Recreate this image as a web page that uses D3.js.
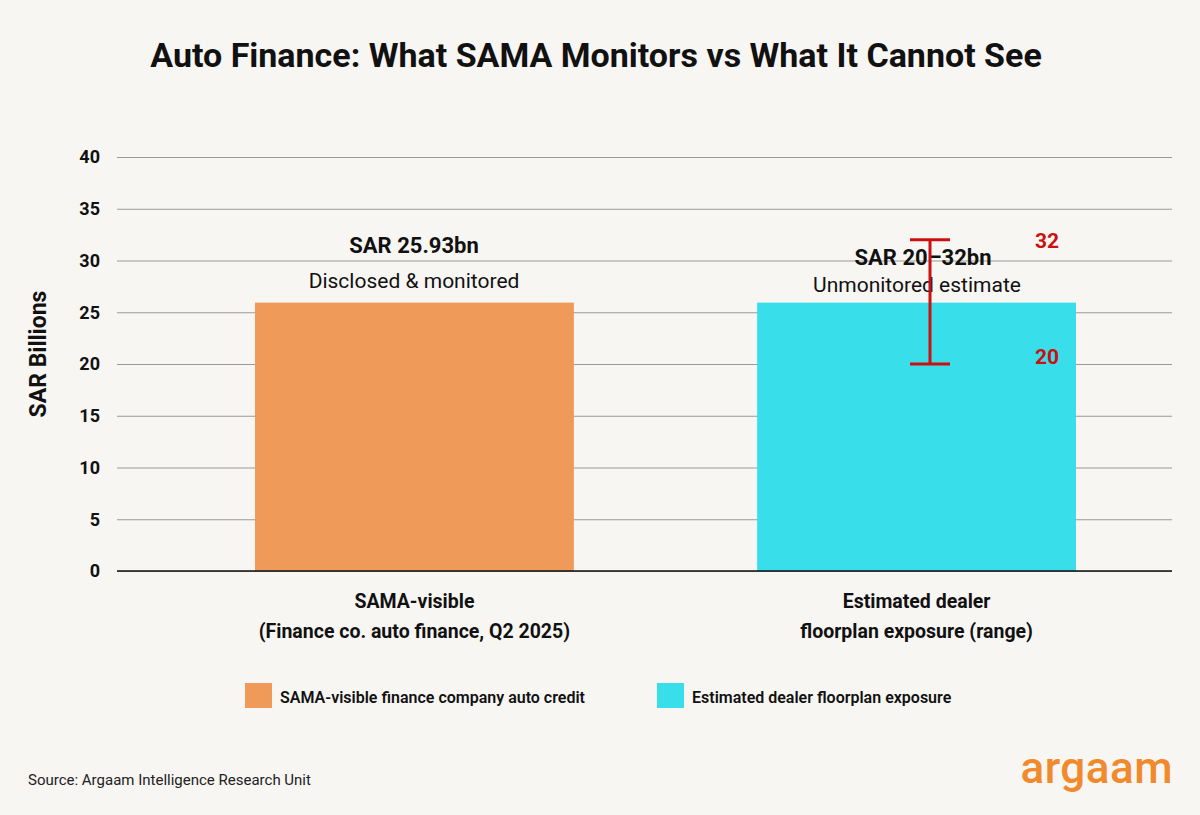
<!DOCTYPE html>
<html><head><meta charset="utf-8">
<script src="https://cdn.jsdelivr.net/npm/d3@7"></script>
<style>body{margin:0;background:#f8f6f3;font-family:Roboto,"Noto Sans",sans-serif}</style>
</head><body><svg id="c" width="1200" height="815"></svg>
<script>
const categories = ["SAMA-visible", "Estimated dealer"];
const catLine2 = ["(Finance co. auto finance, Q2 2025)", "floorplan exposure (range)"];
const values = [25.93, 25.93];
const barLabels = ["SAR 25.93bn", "SAR 20–32bn"];
const barSubs = ["Disclosed & monitored", "Unmonitored estimate"];
const rangeLow = 20, rangeHigh = 32;
const yTicks = [0,5,10,15,20,25,30,35,40];
const legendItems = ["SAMA-visible finance company auto credit", "Estimated dealer floorplan exposure"];
const colors = ["#f09a59", "#38dfea"];

const svg = d3.select("#c");
svg.append("rect").attr("width",1200).attr("height",815).attr("fill","#f8f6f3");
const y = d3.scaleLinear().domain([0,40]).range([571,157]);
const x = d3.scaleBand().domain(categories).range([255,1076]).paddingInner(0.365).paddingOuter(0);

svg.append("text").attr("x",596).attr("y",67).attr("text-anchor","middle")
  .attr("font-size",34).attr("font-weight",700).attr("fill","#111")
  .text("Auto Finance: What SAMA Monitors vs What It Cannot See");

const ax = svg.append("g").attr("transform","translate(117,0)")
  .call(d3.axisLeft(y).tickValues(yTicks).tickSize(-1055).tickPadding(17));
ax.select(".domain").remove();
ax.selectAll(".tick line").attr("stroke","#9a9a9a").attr("stroke-width",1);
ax.selectAll(".tick text").attr("font-size",18).attr("font-weight",700).attr("fill","#111").attr("font-family","Roboto");

svg.append("text").attr("transform","translate(46,354) rotate(-90)").attr("text-anchor","middle")
  .attr("font-size",23).attr("font-weight",700).attr("fill","#111").text("SAR Billions");

svg.selectAll(".bar").data(values).enter().append("rect")
  .attr("x",(d,i)=>x(categories[i])).attr("width",x.bandwidth())
  .attr("y",d=>y(d)).attr("height",d=>y(0)-y(d)).attr("fill",(d,i)=>colors[i]);

svg.append("line").attr("x1",117).attr("x2",1172).attr("y1",y(0)).attr("y2",y(0)).attr("stroke","#111").attr("stroke-width",1.5);

const lblY=[245,257], subY=[281,285], cx=[414,917], cxL=[414,923];
categories.forEach((c,i)=>{
  svg.append("text").attr("x",cxL[i]).attr("y",lblY[i]+8).attr("text-anchor","middle").attr("font-size",22).attr("font-weight",700).attr("fill","#111").text(barLabels[i]);
  svg.append("text").attr("x",cx[i]).attr("y",subY[i]+7).attr("text-anchor","middle").attr("font-size",21).attr("fill","#111").text(barSubs[i]);
  const mx=x(c)+x.bandwidth()/2;
  svg.append("text").attr("x",mx).attr("y",608).attr("text-anchor","middle").attr("font-size",19.5).attr("font-weight",700).attr("fill","#111").text(c);
  svg.append("text").attr("x",mx).attr("y",638).attr("text-anchor","middle").attr("font-size",19.5).attr("font-weight",700).attr("fill","#111").text(catLine2[i]);
});

const ex=930, red="#cc1010";
svg.append("line").attr("x1",ex).attr("x2",ex).attr("y1",y(rangeLow)).attr("y2",y(rangeHigh)).attr("stroke",red).attr("stroke-width",3);
[rangeLow,rangeHigh].forEach(v=>{
  svg.append("line").attr("x1",ex-20).attr("x2",ex+20).attr("y1",y(v)).attr("y2",y(v)).attr("stroke",red).attr("stroke-width",3);
  svg.append("text").attr("x",1047).attr("y",y(v)+(v===rangeHigh?8:0)).attr("text-anchor","middle").attr("font-size",21).attr("font-weight",700).attr("fill",red).text(v);
});

const lx=[245,657];
legendItems.forEach((t,i)=>{
  svg.append("rect").attr("x",lx[i]).attr("y",683).attr("width",27).attr("height",25).attr("fill",colors[i]);
  svg.append("text").attr("x",lx[i]+35).attr("y",703).attr("font-size",16).attr("font-weight",600).attr("fill","#111").text(t);
});

svg.append("text").attr("x",28).attr("y",785).attr("font-size",15).attr("fill","#222").text("Source: Argaam Intelligence Research Unit");
svg.append("text").attr("x",1173).attr("y",783).attr("text-anchor","end")
  .attr("font-size",44).attr("font-weight",500).attr("fill","#f08a2c").attr("letter-spacing",0.5).text("argaam");
</script>
</body></html>
